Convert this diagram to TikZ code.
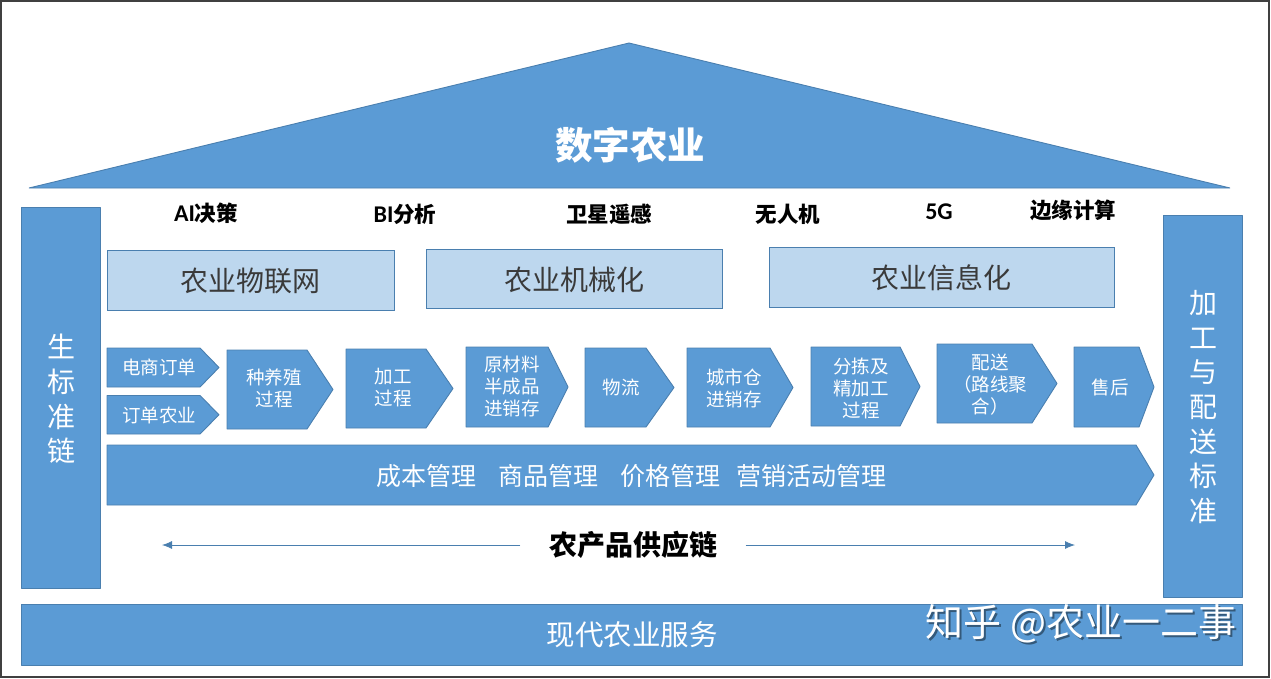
\documentclass[tikz,border=0pt]{standalone}
\usepackage{fontspec}
\setmainfont{Noto Sans CJK SC}
\newfontfamily\latinfont{Carlito}
\usetikzlibrary{arrows.meta}
\definecolor{roofblue}{HTML}{5B9BD5}
\definecolor{edgeblue}{HTML}{4A7FAF}
\definecolor{paleblue}{HTML}{BDD7EE}
\definecolor{darktext}{HTML}{3A3A3A}
\definecolor{framegray}{HTML}{404040}
\tikzset{
  bluebox/.style={fill=roofblue,draw=edgeblue,line width=0.9pt,line join=bevel},
  palebox/.style={fill=paleblue,draw=edgeblue,line width=0.9pt},
  stagetext/.style={text=white,align=center,font=\fontsize{18.5}{22}\selectfont,inner sep=0pt},
  techtext/.style={text=black,font=\fontsize{21.5}{24}\selectfont\bfseries,inner sep=0pt},
  paletext/.style={text=darktext,font=\fontsize{28}{32}\selectfont,inner sep=0pt},
  sidetext/.style={text=white,align=center,font=\fontsize{28}{34.6}\selectfont,inner sep=0pt},
}

\begin{document}
\begin{tikzpicture}[x=1pt,y=-1pt]
    \useasboundingbox (0,0) rectangle (1271,678);
    \draw[framegray,line width=2pt] (1,1) rectangle (1269,677);
    % roof
    \draw[bluebox] (29,188) -- (629,43) -- (1230,188) -- cycle;
    \node[text=white,font=\fontsize{37.5}{42}\selectfont\bfseries,inner sep=0pt] (roof) at (630,145) {数字农业};
    % side bars and base
    \draw[bluebox] (21,207) rectangle (100,588);
    \draw[bluebox] (1163,215) rectangle (1242,597);
    \draw[bluebox] (21,604) rectangle (1242,665);
    \node[sidetext] (leftbar) at (61,399) {生\\标\\准\\链};
    \node[sidetext] (rightbar) at (1203,407) {加\\工\\与\\配\\送\\标\\准};
    \node[text=white,font=\fontsize{28.5}{32}\selectfont,inner sep=0pt] (service) at (632,635) {现代农业服务};
    % technologies
    \foreach \x/\y/\name/\txt in {206/213/ai/{{\latinfont\fontsize{24}{24}\selectfont AI}决策},405/214/bi/{{\latinfont\fontsize{24}{24}\selectfont BI}分析},609/214/sat/卫星遥感,
      788/214/uav/无人机,939/212/fiveg/{{\latinfont\fontsize{24}{24}\selectfont 5G}},1073/210/edge/边缘计算}{
      \node[techtext] (\name) at (\x,\y) {\txt};
    }
    % pale boxes
    \foreach \xa/\ya/\xb/\yb/\name/\txt in {107/250/394/310/iot/农业物联网,426/249/722/308/mech/农业机械化,769/247/1114/307/info/农业信息化}{
      \draw[palebox] (\xa,\ya) rectangle (\xb,\yb);
      \node[paletext] (\name) at ({(\xa+\xb)/2},{(\ya+\yb)/2+1}) {\txt};
    }
    % chain stages
    \foreach \xa/\xs/\xt/\ya/\yb/\tx/\ty/\name/\txt in {
      107/200/219/348/387/159/367/shop/电商订单,
      107/200/219/395.5/434/159/415/order/订单农业,
      227/307/333/350/429/274/388/farm/{种养殖\\过程},
      346/426/453/349/428/393/388/proc/{加工\\过程},
      466/548/568/347/427/512/386/stock/{原材料\\半成品\\进销存},
      585/646/674/348/427/621/387/logi/物流,
      687/770/793/348/427/734/388/ware/{城市仓\\进销存},
      811/900/920/347/426/861/388/sort/{分拣及\\精加工\\过程},
      937/1032/1057/344/423/990/385/send/{配送\\（路线聚\\合）},
      1074/1139/1154/347/427/1110/387/after/售后}{
      \draw[bluebox] (\xa,\ya) -- (\xs,\ya) -- (\xt,{(\ya+\yb)/2}) -- (\xs,\yb) -- (\xa,\yb) -- cycle;
      \node[stagetext] (\name) at (\tx,\ty) {\txt};
    }
    \draw[bluebox] (107,445) -- (1136,445) -- (1154,475) -- (1136,505) -- (107,505) -- cycle;
    \node[text=white,font=\fontsize{25}{30}\selectfont,inner sep=0pt] (manage) at (631,476)
      {成本管理\hspace{22pt}商品管理\hspace{22pt}价格管理\hspace{16pt}营销活动管理};
    % supply chain arrow
    \node[font=\fontsize{28}{30}\selectfont\bfseries,inner xsep=28.5pt,inner ysep=0pt] (chain) at (633,545) {农产品供应链};
    \coordinate (chainleft) at (162,545);
    \coordinate (chainright) at (1075,545);
    \draw[edgeblue,line width=0.8pt,-{Latex[length=10pt,width=8pt]}] (chain) -- (chainleft);
    \draw[edgeblue,line width=0.8pt,-{Latex[length=10pt,width=8pt]}] (chain) -- (chainright);
    % watermark
    \node[text=edgeblue!70!black,font=\fontsize{38}{42}\selectfont,inner sep=0pt] (markshadow) at (1083,626) {知乎 @农业一二事};
    \node[text=white,font=\fontsize{38}{42}\selectfont,inner sep=0pt] (mark) at (1081,624) {知乎 @农业一二事};
\end{tikzpicture}
\end{document}
